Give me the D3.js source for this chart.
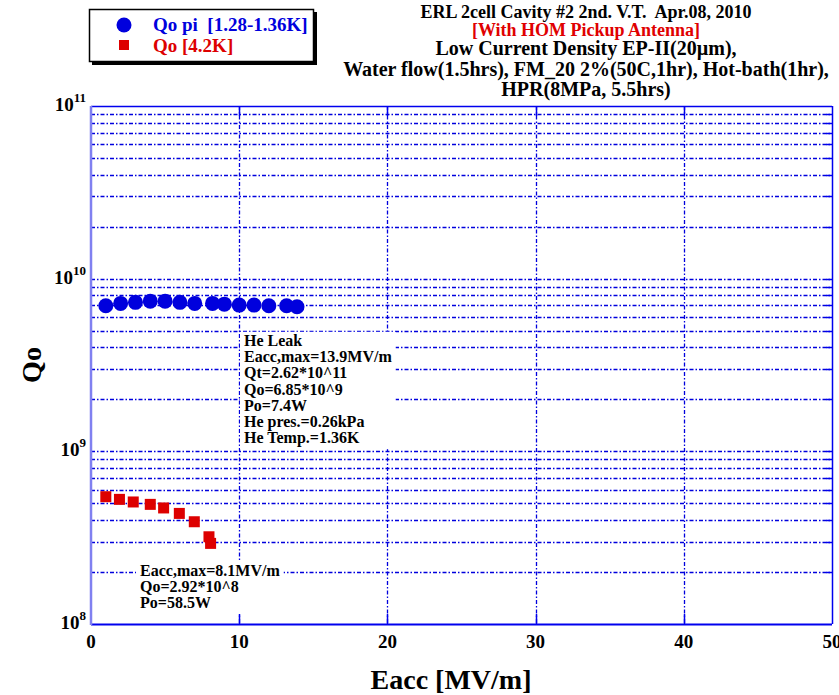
<!DOCTYPE html>
<html>
<head>
<meta charset="utf-8">
<script src="https://cdn.jsdelivr.net/npm/d3@7"></script>
<style>
  body { margin: 0; background: #fff; }
  text { font-family: "Liberation Serif", "DejaVu Serif", serif; font-weight: bold; }
</style>
</head>
<body>
<svg id="chart" width="839" height="695"></svg>
<script>
// data
var eaccPi = [1, 2, 3, 4, 5, 6, 7, 8.2, 9, 10, 11, 12, 13.2, 13.9];
var qoPi   = [6.97e9, 7.19e9, 7.29e9, 7.41e9, 7.41e9, 7.29e9, 7.19e9, 7.19e9, 7.12e9, 7.03e9, 7.03e9, 6.97e9, 6.97e9, 6.88e9];
var eacc42 = [1, 1.92, 2.85, 4.0, 4.9, 5.96, 6.97, 7.96, 8.07];
var qo42   = [5.46e8, 5.27e8, 5.09e8, 4.93e8, 4.70e8, 4.37e8, 3.91e8, 3.20e8, 2.93e8];
var xTicks = [0, 10, 20, 30, 40, 50];
var yDecades = [8, 9, 10, 11];

var titleLines = ["ERL 2cell Cavity #2 2nd. V.T.  Apr.08, 2010",
                  "[With HOM Pickup Antenna]",
                  "Low Current Density EP-II(20\u00b5m),",
                  "Water flow(1.5hrs), FM_20 2%(50C,1hr), Hot-bath(1hr),",
                  "HPR(8MPa, 5.5hrs)"];
var leakNote = ["He Leak", "Eacc,max=13.9MV/m", "Qt=2.62*10^11", "Qo=6.85*10^9",
                "Po=7.4W", "He pres.=0.26kPa", "He Temp.=1.36K"];
var lowNote = ["Eacc,max=8.1MV/m", "Qo=2.92*10^8", "Po=58.5W"];

var svg = d3.select("#chart");
var pLeft = 91, pRight = 832, pTop = 106, pBottom = 624;

var x = d3.scaleLinear().domain([0, 50]).range([pLeft, pRight]);
var y = d3.scaleLog().domain([1e8, 1e11]).range([pBottom, pTop]);

var gridColor = "#0000dd";

// horizontal grid, every 1..9 of each decade
var hLines = [];
[8, 9, 10].forEach(function(e){
  for (var k = 1; k <= 9; k++){
    if (e == 8 && k == 1) continue;
    hLines.push(k * Math.pow(10, e));
  }
});
svg.selectAll("line.hgrid")
  .data(hLines).enter()
  .append("line")
  .attr("class", "hgrid")
  .attr("x1", pLeft).attr("x2", pRight)
  .attr("y1", function(d){ return Math.round(y(d)) + 0.5 })
  .attr("y2", function(d){ return Math.round(y(d)) + 0.5 })
  .attr("stroke", gridColor)
  .attr("stroke-width", 1.3)
  .attr("stroke-dasharray", "4,2,1.5,2");

// vertical grid
svg.selectAll("line.vgrid")
  .data([10, 20, 30, 40]).enter()
  .append("line")
  .attr("class", "vgrid")
  .attr("y1", pTop).attr("y2", pBottom)
  .attr("x1", function(d){ return Math.round(x(d)) + 0.5 })
  .attr("x2", function(d){ return Math.round(x(d)) + 0.5 })
  .attr("stroke", gridColor)
  .attr("stroke-width", 1.3)
  .attr("stroke-dasharray", "4,2,1.5,2");

// ticks on frame
svg.selectAll("line.xtick")
  .data([10, 20, 30, 40]).enter()
  .append("line")
  .attr("x1", function(d){ return Math.round(x(d)) + 0.5 })
  .attr("x2", function(d){ return Math.round(x(d)) + 0.5 })
  .attr("y1", pBottom).attr("y2", pBottom - 10)
  .attr("stroke", "#0000ee").attr("stroke-width", 1.5);
svg.selectAll("line.xtickTop")
  .data([10, 20, 30, 40]).enter()
  .append("line")
  .attr("x1", function(d){ return Math.round(x(d)) + 0.5 })
  .attr("x2", function(d){ return Math.round(x(d)) + 0.5 })
  .attr("y1", pTop).attr("y2", pTop + 10)
  .attr("stroke", "#0000ee").attr("stroke-width", 1.5);
svg.selectAll("line.ytickR")
  .data(hLines).enter()
  .append("line")
  .attr("x1", pRight).attr("x2", pRight - 6)
  .attr("y1", function(d){ return Math.round(y(d)) + 0.5 })
  .attr("y2", function(d){ return Math.round(y(d)) + 0.5 })
  .attr("stroke", "#0000ee").attr("stroke-width", 1.5);

// frame
svg.append("line").attr("x1", pLeft).attr("x2", pRight).attr("y1", pTop + 0.5).attr("y2", pTop + 0.5)
  .attr("stroke", "#0000ee").attr("stroke-width", 1.5);
svg.append("line").attr("x1", pRight + 0.5).attr("x2", pRight + 0.5).attr("y1", pTop).attr("y2", pBottom)
  .attr("stroke", "#0000ee").attr("stroke-width", 1.5);
svg.append("line").attr("x1", pLeft).attr("x2", pRight).attr("y1", pBottom + 0.5).attr("y2", pBottom + 0.5)
  .attr("stroke", "#0000ee").attr("stroke-width", 2);
svg.append("line").attr("x1", pLeft).attr("x2", pLeft).attr("y1", pTop).attr("y2", pBottom + 1)
  .attr("stroke", "#8080f0").attr("stroke-width", 2.5);

// x tick labels
svg.selectAll("text.xlab")
  .data(xTicks).enter()
  .append("text")
  .attr("x", function(d){ return x(d) })
  .attr("y", pBottom + 24)
  .attr("text-anchor", "middle")
  .attr("font-size", 19)
  .text(function(d){ return d });

// y tick labels 10^n
var ylab = svg.selectAll("text.ylab")
  .data(yDecades).enter()
  .append("text")
  .attr("x", 86)
  .attr("y", function(d){ return y(Math.pow(10, d)) + 5 })
  .attr("text-anchor", "end")
  .attr("font-size", 19);
ylab.append("tspan").text("10");
ylab.append("tspan").attr("dy", -9).attr("font-size", 13).text(function(d){ return d });

// annotations with white background
function note(lines, x0, y0, step, size){
  var g = svg.append("g");
  var bg = g.append("rect").attr("fill", "#fff");
  var t = g.selectAll("text").data(lines).enter()
    .append("text")
    .attr("x", x0)
    .attr("y", function(d, i){ return y0 + i * step })
    .attr("font-size", size)
    .text(function(d){ return d });
  var w = d3.max(t.nodes(), function(n){ return n.getComputedTextLength() });
  bg.attr("x", x0 - 4).attr("y", y0 - step + 2)
    .attr("width", w + 8).attr("height", lines.length * step + 4);
}
note(leakNote, 244, 346, 16.2, 16);
note(lowNote, 140, 576, 16, 16);

// Qo pi points
svg.selectAll("circle.pi")
  .data(eaccPi).enter()
  .append("circle")
  .attr("cx", function(d){ return x(d) })
  .attr("cy", function(d, i){ return y(qoPi[i]) })
  .attr("r", 7.5)
  .attr("fill", "#0000dd");

// Qo 4.2K points
svg.selectAll("rect.k42")
  .data(eacc42).enter()
  .append("rect")
  .attr("x", function(d){ return x(d) - 5.5 })
  .attr("y", function(d, i){ return y(qo42[i]) - 5.5 })
  .attr("width", 11).attr("height", 11)
  .attr("fill", "#dd0000");

// axis titles
svg.append("text")
  .attr("x", 451).attr("y", 689)
  .attr("text-anchor", "middle")
  .attr("font-size", 28)
  .text("Eacc [MV/m]");
svg.append("text")
  .attr("transform", "translate(41,365) rotate(-90)")
  .attr("text-anchor", "middle")
  .attr("font-size", 28)
  .text("Qo");

// title block
var titleY = [18, 36, 55, 76, 96];
svg.selectAll("text.title")
  .data(titleLines).enter()
  .append("text")
  .attr("x", 586)
  .attr("y", function(d, i){ return titleY[i] })
  .attr("text-anchor", "middle")
  .attr("font-size", function(d, i){ return i < 2 ? 18 : 20 })
  .attr("fill", function(d, i){ return i == 1 ? "#e00000" : "#000" })
  .attr("xml:space", "preserve").style("white-space", "pre")
  .text(function(d){ return d });

// legend
svg.append("rect").attr("x", 92).attr("y", 12).attr("width", 225).attr("height", 53).attr("fill", "#000");
svg.append("rect").attr("x", 89.5).attr("y", 9.5).attr("width", 224).attr("height", 52)
  .attr("fill", "#fff").attr("stroke", "#000").attr("stroke-width", 1.5);
svg.append("circle").attr("cx", 124).attr("cy", 25).attr("r", 7.5).attr("fill", "#0000dd");
svg.append("rect").attr("x", 119).attr("y", 40).attr("width", 10).attr("height", 10).attr("fill", "#dd0000");
svg.append("text").attr("x", 153).attr("y", 31).attr("font-size", 19).attr("fill", "#0000dd")
  .attr("xml:space", "preserve").style("white-space", "pre").text("Qo pi  [1.28-1.36K]");
svg.append("text").attr("x", 153).attr("y", 52).attr("font-size", 19).attr("fill", "#dd0000")
  .text("Qo [4.2K]");
</script>
</body>
</html>
